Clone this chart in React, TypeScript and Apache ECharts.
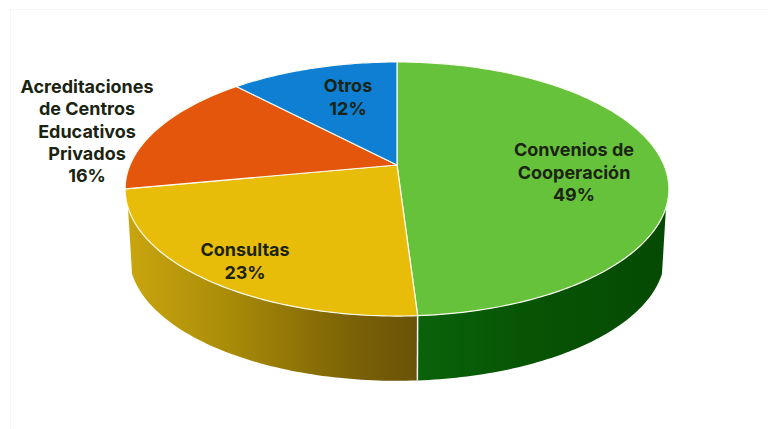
import React, { useEffect, useRef } from "react";
import * as echarts from "echarts";

// Shares of the yearly activity, clockwise from twelve o'clock.
const categories = [
  "Convenios de\nCooperación",
  "Consultas",
  "Acreditaciones\nde Centros\nEducativos\nPrivados",
  "Otros",
];
const shares = [49, 23, 16, 12];
const topColors = ["#66C23A", "#E8BD0A", "#E4560C", "#0E7FD3"];
const labelCenters = [
  [574, 172],
  [245, 261],
  [87, 131],
  [348, 97],
];

// Perspective disc: the near edge looks larger than the far edge.
const CX = 397;
const TOP_Y = 165;
const BOTTOM_Y = 232;
const RX = 267;
const RY = 122.5;
const PERSPECTIVE = 0.189;
const BOTTOM_SHRINK = 0.985;
const SIDE_FROM = 109;
const SIDE_TO = 251;

const rad = (d: number) => (d * Math.PI) / 180;

function project(deg: number, lower = false): number[] {
  const s = Math.sin(rad(deg));
  const c = Math.cos(rad(deg));
  const w = 1 + PERSPECTIVE * c;
  const k = lower ? BOTTOM_SHRINK : 1;
  return [CX + (k * RX * s) / w, (lower ? BOTTOM_Y : TOP_Y) - (k * RY * c) / w];
}

function arc(from: number, to: number, lower = false): number[][] {
  const pts: number[][] = [];
  const n = Math.max(2, Math.ceil(Math.abs(to - from)));
  for (let i = 0; i <= n; i++) pts.push(project(from + ((to - from) * i) / n, lower));
  return pts;
}

const sideFills = [
  new echarts.graphic.LinearGradient(0, 0, 1, 0, [
    { offset: 0, color: "#0A620A" },
    { offset: 0.5, color: "#065304" },
    { offset: 1, color: "#054A03" },
  ]),
  new echarts.graphic.LinearGradient(0, 0, 1, 0, [
    { offset: 0, color: "#C9A50E" },
    { offset: 0.35, color: "#A98B08" },
    { offset: 0.75, color: "#7D6406" },
    { offset: 1, color: "#6A5208" },
  ]),
];

function renderSlice(params: any, api: any) {
  const i = params.dataIndex;
  const total = shares.reduce((a, b) => a + b, 0);
  const before = shares.slice(0, i).reduce((a, b) => a + b, 0);
  const start = (before / total) * 360;
  const end = ((before + api.value(0)) / total) * 360;
  const children: any[] = [];

  // Outer wall, only where it faces the viewer.
  const wallFrom = Math.max(start, SIDE_FROM);
  const wallTo = Math.min(end, SIDE_TO);
  if (wallTo > wallFrom) {
    children.push({
      type: "polygon",
      shape: { points: [...arc(wallFrom, wallTo), ...arc(wallTo, wallFrom, true)] },
      style: { fill: sideFills[i], stroke: null },
    });
    if (end < SIDE_TO) {
      const [x1, y1] = project(end);
      const [x2, y2] = project(end, true);
      children.push({
        type: "line",
        shape: { x1, y1, x2, y2 },
        style: { stroke: "#F4F4EE", lineWidth: 1.5 },
        z2: 3,
      });
    }
  }

  // Top face of the slice.
  children.push({
    type: "polygon",
    shape: { points: [[CX, TOP_Y], ...arc(start, end)] },
    style: { fill: topColors[i], stroke: "#FBFBF0", lineWidth: 1.2, lineJoin: "round" },
    z2: 2,
  });

  children.push({
    type: "text",
    x: labelCenters[i][0],
    y: labelCenters[i][1],
    z2: 5,
    style: {
      text: `${categories[i]}\n${api.value(0)}%`,
      align: "center",
      verticalAlign: "middle",
      fontFamily: "Inter",
      fontWeight: 700,
      fontSize: 18,
      lineHeight: 22.4,
      fill: "#1B2412",
    },
  });
  return { type: "group", children };
}

export default function App() {
  const ref = useRef<HTMLDivElement>(null);
  useEffect(() => {
    document.body.style.margin = "0";
    const chart = echarts.init(ref.current!, null, { renderer: "svg" });
    chart.setOption({
      animation: false,
      backgroundColor: "#FFFFFF",
      graphic: [
        {
          type: "rect",
          shape: { x: 10.5, y: 9.5, width: 800, height: 600 },
          style: { fill: "none", stroke: "#F5F6F3", lineWidth: 1 },
          silent: true,
        },
      ],
      series: [
        {
          type: "custom",
          coordinateSystem: "none",
          clip: false,
          silent: true,
          data: shares.map((v) => [v]),
          renderItem: renderSlice,
        },
      ],
    });
    return () => chart.dispose();
  }, []);
  return <div ref={ref} style={{ width: 768, height: 429 }} />;
}
